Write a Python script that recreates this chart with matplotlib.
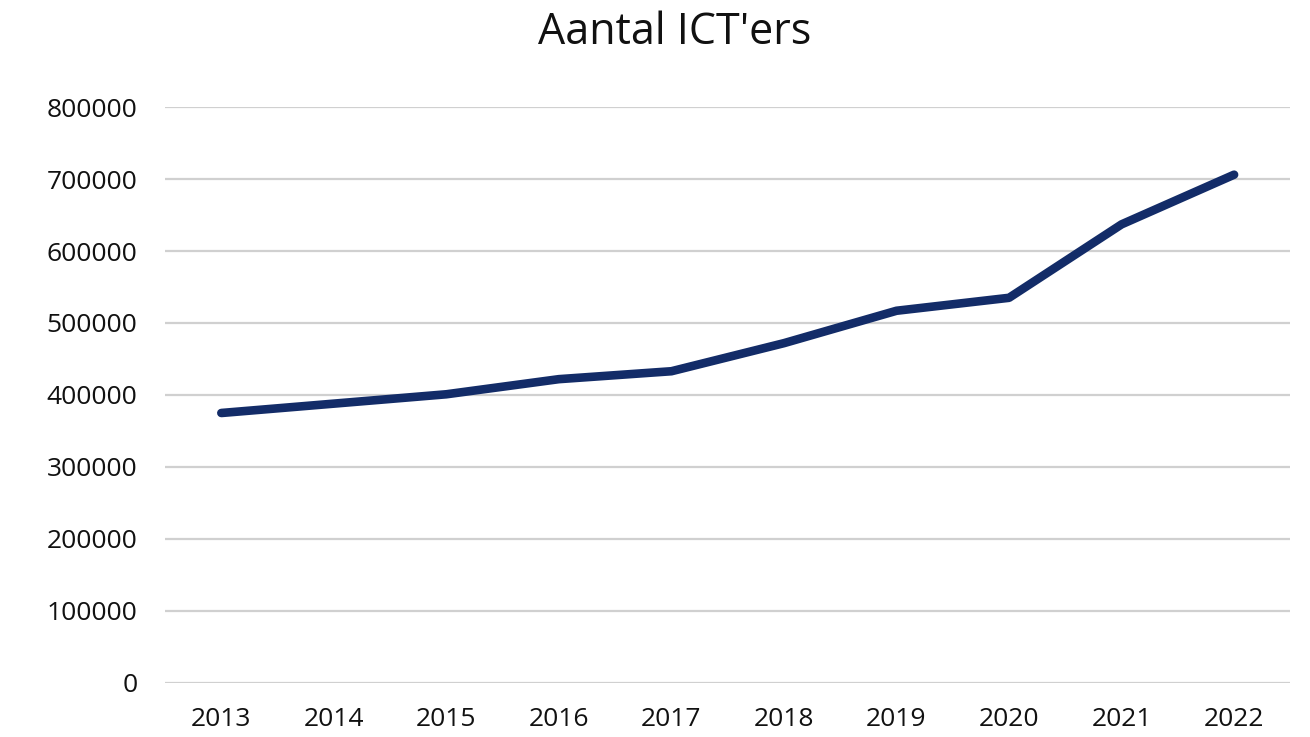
import matplotlib.pyplot as plt

years = ['2013', '2014', '2015', '2016', '2017', '2018', '2019', '2020', '2021', '2022']
ict_ers = [375000, 388000, 401000, 422000, 433000, 472000, 517000, 535000, 637000, 706000]
y_ticks = [0, 100000, 200000, 300000, 400000, 500000, 600000, 700000, 800000]

plt.rcParams['font.family'] = ['Open Sans', 'DejaVu Sans']

fig = plt.figure(figsize=(13.1, 7.37), dpi=100)
ax = fig.add_axes([0.126, 0.0733, 0.859, 0.7815])

x = range(len(years))
ax.plot(x, ict_ers, color='#132c68', linewidth=6.2, solid_capstyle='round',
        solid_joinstyle='round', zorder=3)

ax.set_xlim(-0.5, len(years) - 0.5)
ax.set_ylim(0, 800000)
ax.set_yticks(y_ticks)
ax.set_yticklabels([str(v) for v in y_ticks])
ax.set_xticks(list(x))
ax.set_xticklabels(years)
ax.yaxis.grid(True, color='#d0d0d0', linewidth=1.6)
ax.set_axisbelow(True)
for s in ax.spines.values():
    s.set_visible(False)
ax.tick_params(axis='both', length=0, labelsize=19, colors='#111111')
ax.tick_params(axis='y', pad=20)
ax.tick_params(axis='x', pad=17)

fig.text(0.515, 0.955, "Aantal ICT'ers", ha='center', va='center', fontsize=31, color='#111111')

fig.savefig('out.png', dpi=100)
